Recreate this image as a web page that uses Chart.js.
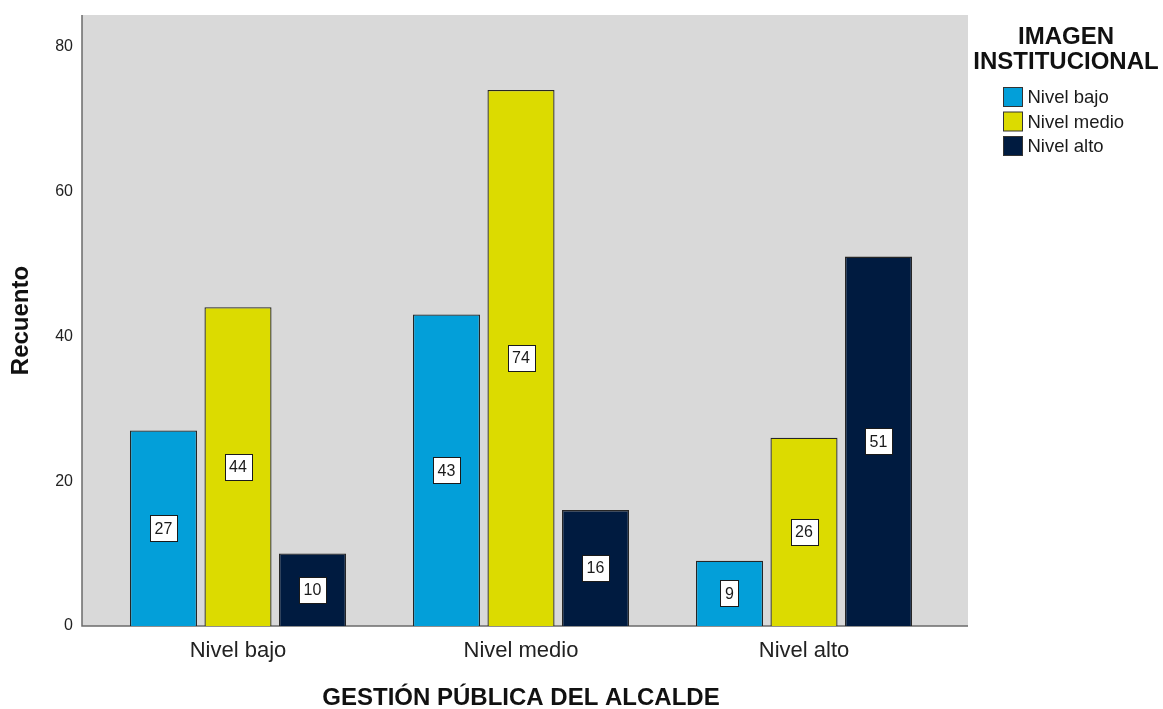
<!DOCTYPE html>
<html>
<head>
<meta charset="utf-8">
<title>Recuento por gestión pública</title>
<script src="https://cdn.jsdelivr.net/npm/chart.js@4"></script>
<style>
  html, body { margin: 0; padding: 0; background: #ffffff; }
  #wrap { width: 1163px; height: 709px; }
</style>
</head>
<body>
<div id="wrap"><canvas id="chart" width="1163" height="709"></canvas></div>
<script>
// Categories on the x axis (GESTIÓN PÚBLICA DEL ALCALDE)
const categories = ['Nivel bajo', 'Nivel medio', 'Nivel alto'];

// Series: IMAGEN INSTITUCIONAL levels
const seriesNames = ['Nivel bajo', 'Nivel medio', 'Nivel alto'];
const nivelBajo  = [27, 43, 9];
const nivelMedio = [44, 74, 26];
const nivelAlto  = [10, 16, 51];

// Y-axis ticks
const yTicks = [0, 20, 40, 60, 80];

const FONT = "'Liberation Sans', Arial, Helvetica, sans-serif";
const colors = ['#039fd9', '#dcdb00', '#001b40'];

// Grey plot panel with its axis lines (extends slightly past the category band)
const panelPlugin = {
  id: 'panel',
  beforeDraw(chart) {
    const { ctx, chartArea } = chart;
    const left = chartArea.left - 14.5, right = chartArea.right + 22.5;
    ctx.save();
    ctx.fillStyle = '#d9d9d9';
    ctx.fillRect(left, chartArea.top, right - left, chartArea.bottom - chartArea.top);
    ctx.strokeStyle = '#6b6b6b';
    ctx.lineWidth = 1.5;
    ctx.beginPath();
    ctx.moveTo(left, chartArea.top);
    ctx.lineTo(left, chartArea.bottom);
    ctx.lineTo(right, chartArea.bottom);
    ctx.stroke();
    ctx.restore();
  }
};

// Value boxes at the middle of each bar
const valueLabelPlugin = {
  id: 'valueLabels',
  afterDatasetsDraw(chart) {
    const { ctx } = chart;
    ctx.save();
    ctx.font = '16px ' + FONT;
    ctx.textAlign = 'center';
    ctx.textBaseline = 'middle';
    chart.data.datasets.forEach((ds, di) => {
      const meta = chart.getDatasetMeta(di);
      meta.data.forEach((bar, i) => {
        const txt = String(ds.data[i]);
        const cx = bar.x;
        const cy = (bar.y + bar.base) / 2;
        const w = Math.round(ctx.measureText(txt).width) + 9;
        const h = 26;
        const x0 = Math.round(cx - w / 2) + 0.5, y0 = Math.round(cy - h / 2) + 0.5;
        ctx.fillStyle = '#ffffff';
        ctx.fillRect(x0, y0, w, h);
        ctx.strokeStyle = '#1a1a1a';
        ctx.lineWidth = 1;
        ctx.strokeRect(x0, y0, w, h);
        ctx.fillStyle = '#1a1a1a';
        ctx.fillText(txt, cx, cy + 1);
      });
    });
    ctx.restore();
  }
};

// Legend block on the right: two-line bold title and colour swatches
const legendPlugin = {
  id: 'sideLegend',
  afterDraw(chart) {
    const { ctx } = chart;
    ctx.save();
    ctx.fillStyle = '#111111';
    ctx.font = 'bold 24px ' + FONT;
    ctx.textAlign = 'center';
    ctx.textBaseline = 'middle';
    ctx.fillText('IMAGEN', 1066, 37);
    ctx.fillText('INSTITUCIONAL', 1066, 62);
    ctx.font = '18.5px ' + FONT;
    ctx.textAlign = 'left';
    chart.data.datasets.forEach((ds, i) => {
      const y = 87 + i * 24.5;
      ctx.fillStyle = ds.backgroundColor;
      ctx.fillRect(1003.5, y + 0.5, 19, 19);
      ctx.strokeStyle = '#333333';
      ctx.lineWidth = 1;
      ctx.strokeRect(1003.5, y + 0.5, 19, 19);
      ctx.fillStyle = '#1a1a1a';
      ctx.fillText(ds.label, 1027.5, y + 11);
    });
    ctx.restore();
  }
};

const datasets = [nivelBajo, nivelMedio, nivelAlto].map((vals, i) => ({
  label: seriesNames[i],
  data: vals,
  backgroundColor: colors[i],
  borderColor: '#262626',
  borderWidth: 1.3,
  categoryPercentage: 0.79,
  barPercentage: 0.9
}));

new Chart(document.getElementById('chart'), {
  type: 'bar',
  data: { labels: categories, datasets },
  options: {
    responsive: false,
    animation: false,
    layout: { padding: { top: 15, right: 217.5, left: 0, bottom: 0 } },
    plugins: {
      legend: { display: false },
      tooltip: { enabled: false }
    },
    scales: {
      x: {
        grid: { display: false, drawTicks: false },
        border: { display: false },
        ticks: { color: '#222222', font: { family: FONT, size: 22 }, padding: 12 },
        title: {
          display: true,
          text: 'GESTIÓN PÚBLICA DEL ALCALDE',
          color: '#111111',
          font: { family: FONT, size: 24, weight: 'bold', lineHeight: 0.9 },
          padding: { top: 0, bottom: 0 }
        },
        afterFit(scale) { scale.height = 83; scale.paddingLeft = 0; scale.paddingRight = 0; }
      },
      y: {
        min: 0,
        max: 84.35,
        afterBuildTicks(scale) { scale.ticks = yTicks.map(v => ({ value: v })); },
        grid: { display: false, drawTicks: false },
        border: { display: false },
        ticks: { color: '#222222', font: { family: FONT, size: 16 }, padding: 23.5 },
        title: {
          display: true,
          text: 'Recuento',
          color: '#111111',
          font: { family: FONT, size: 24, weight: 'bold', lineHeight: 1.2 },
          padding: { top: 6.5, bottom: 0 }
        },
        afterFit(scale) { scale.width = 96.5; scale.paddingTop = 0; scale.paddingBottom = 0; }
      }
    }
  },
  plugins: [panelPlugin, valueLabelPlugin, legendPlugin]
});
</script>
</body>
</html>
